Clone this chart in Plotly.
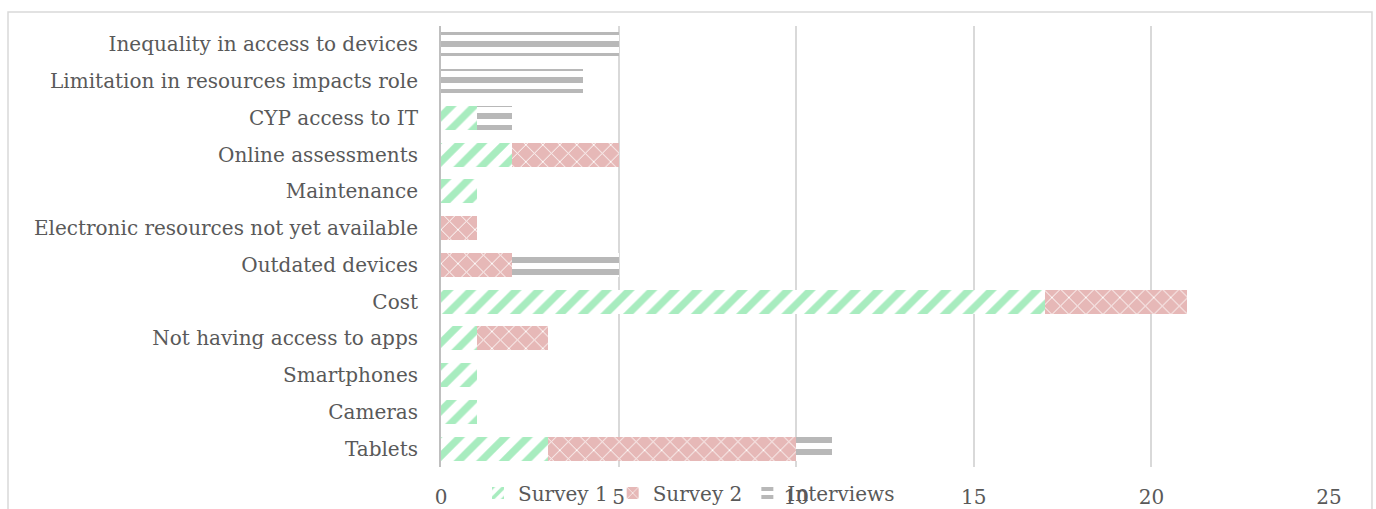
import plotly.graph_objects as go

categories = [
    "Tablets", "Cameras", "Smartphones", "Not having access to apps", "Cost",
    "Outdated devices", "Electronic resources not yet available", "Maintenance",
    "Online assessments", "CYP access to IT", "Limitation in resources impacts role",
    "Inequality in access to devices",
]
survey1 = [3, 1, 1, 1, 17, 0, 0, 1, 2, 1, 0, 0]
survey2 = [7, 0, 0, 2, 4, 2, 1, 0, 3, 0, 0, 0]
interviews = [1, 0, 0, 0, 0, 3, 0, 0, 0, 1, 4, 5]
x_ticks = [0, 5, 10, 15, 20, 25]

FONT = "DejaVu Serif"
TEXT = "#595959"
FS = 20

fig = go.Figure()
fig.add_trace(go.Bar(
    name="Survey 1", y=categories, x=survey1, orientation="h",
    marker=dict(color="white", line=dict(width=0),
                pattern=dict(shape="/", fgcolor="#a8ecbf", bgcolor="white",
                             fgopacity=1, size=16, solidity=0.45)),
))
fig.add_trace(go.Bar(
    name="Survey 2", y=categories, x=survey2, orientation="h",
    marker=dict(color="#e6b8b7", line=dict(width=0),
                pattern=dict(shape="x", fgcolor="white", bgcolor="#e6b8b7",
                             fgopacity=1, size=12, solidity=0.15)),
))
fig.add_trace(go.Bar(
    name="Interviews", y=categories, x=interviews, orientation="h",
    marker=dict(color="white", line=dict(width=0),
                pattern=dict(shape="-", fgcolor="#b8b8b8", bgcolor="white",
                             fgopacity=1, size=12, solidity=0.5)),
))

fig.update_layout(
    barmode="stack",
    bargap=0.35,
    width=1376, height=509,
    margin=dict(l=441, r=47, t=26, b=42, autoexpand=False),
    paper_bgcolor="white", plot_bgcolor="white",
    font=dict(family=FONT, size=FS, color=TEXT),
    showlegend=True,
    legend=dict(orientation="h", xref="container", yref="container",
                x=478 / 1376, xanchor="left", y=1 - 493 / 509, yanchor="middle",
                bgcolor="rgba(0,0,0,0)", font=dict(family=FONT, size=FS, color=TEXT),
                traceorder="normal"),
    xaxis=dict(range=[0, 25], tickvals=x_ticks, showgrid=True, gridcolor="#d9d9d9",
               gridwidth=1.5, zeroline=False, showline=False, ticks="",
               automargin=False, ticklabelstandoff=16,
               tickfont=dict(family=FONT, size=FS, color=TEXT)),
    yaxis=dict(showline=True, linecolor="#bfbfbf", linewidth=2, ticks="",
               showgrid=False, automargin=False, ticklabelstandoff=17,
               tickfont=dict(family=FONT, size=FS, color=TEXT)),
    shapes=[dict(type="rect", xref="paper", yref="paper",
                 x0=-0.4876, x1=1.0484, y0=-0.3, y1=1.0317,
                 line=dict(color="#d9d9d9", width=1.5), fillcolor="rgba(0,0,0,0)",
                 layer="below")],
)

fig.write_html("out.html")
